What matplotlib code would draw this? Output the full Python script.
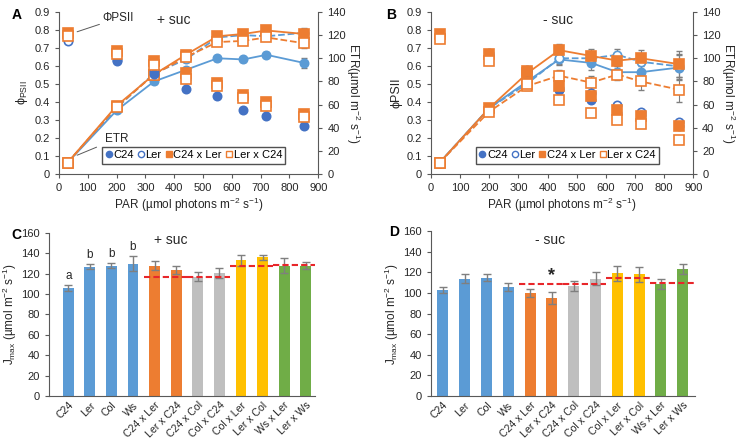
import numpy as np
import matplotlib
matplotlib.use('Agg')
import matplotlib.pyplot as plt
from matplotlib.lines import Line2D

plt.rcParams['font.family'] = ['Liberation Sans', 'DejaVu Sans']
plt.rcParams['mathtext.default'] = 'regular'
plt.rcParams['font.size'] = 8

DARK_BLUE = '#4472C4'
LIGHT_BLUE = '#5B9BD5'
ORANGE = '#ED7D31'
BAR_GRAY = '#BFBFBF'
YELLOW = '#FFC000'
GREEN = '#70AD47'
ERR = '#7F7F7F'
AXC = '#595959'
TXT = '#262626'

# light curves: PAR steps
par = [30, 200, 330, 440, 550, 640, 720, 850]

# A: + suc, PhiPSII
a_phi_c24 = [0.77, 0.63, 0.555, 0.47, 0.435, 0.355, 0.32, 0.265]
a_phi_ler = [0.74, 0.635, 0.57, 0.53, 0.49, 0.43, 0.38, 0.31]
a_phi_c24ler = [0.785, 0.685, 0.625, 0.56, 0.505, 0.44, 0.40, 0.335]
a_phi_lerc24 = [0.765, 0.665, 0.605, 0.53, 0.49, 0.42, 0.38, 0.315]
# A: + suc, ETR
a_etr_c24 = [10, 55, 80, 90, 100, 99, 103, 96]
a_etr_ler = [10, 57, 87, 99, 118, 120, 119, 122]
a_etr_c24ler = [10, 59, 86, 103, 119, 121, 124, 121]
a_etr_lerc24 = [10, 58, 86, 101, 114, 115, 118, 113]
a_etr_err = [0.5, 1.5, 2, 2, 2, 2, 2, 4]

# B: - suc, PhiPSII
b_phi_c24 = [0.78, 0.67, 0.58, 0.465, 0.41, 0.34, 0.33, 0.265]
b_phi_ler = [0.77, 0.66, 0.57, 0.48, 0.45, 0.385, 0.345, 0.29]
b_phi_c24ler = [0.78, 0.665, 0.575, 0.49, 0.435, 0.355, 0.325, 0.265]
b_phi_lerc24 = [0.75, 0.63, 0.50, 0.41, 0.34, 0.30, 0.28, 0.19]
# B: - suc, ETR
b_etr_c24 = [10, 57, 80, 99, 96, 88, 88, 92]
b_etr_ler = [10, 57, 78, 100, 100, 103, 97, 93]
b_etr_c24ler = [10, 57, 87, 107, 102, 98, 100, 95]
b_etr_lerc24 = [10, 54, 76, 85, 79, 86, 80, 73]
b_etr_err = [0.5, 1.5, 3, 5, 6, 5, 7, 11]

# C / D: Jmax
genotypes = ['C24', 'Ler', 'Col', 'Ws', 'C24 x Ler', 'Ler x C24', 'C24 x Col',
             'Col x C24', 'Col x Ler', 'Ler x Col', 'Ws x Ler', 'Ler x Ws']
c_jmax = [106, 127, 128, 130, 128, 124, 117, 121, 133, 136, 128, 128]
c_err = [2.5, 2.5, 2.5, 7, 4, 4, 4.5, 5, 5, 2.5, 7, 3]
d_jmax = [103, 114, 115, 106, 100, 95, 107, 114, 119, 118, 109, 123]
d_err = [3, 4.5, 3.5, 4, 4, 5.5, 5, 6, 7, 7.5, 5, 5]
bar_colors = [LIGHT_BLUE] * 4 + [ORANGE] * 2 + [BAR_GRAY] * 2 + [YELLOW] * 2 + [GREEN] * 2
# hybrid pairs and their parents (indices) for mid-parent lines
hybrid_pairs = [((4, 5), (0, 1)), ((6, 7), (0, 2)), ((8, 9), (2, 1)), ((10, 11), (3, 1))]
c_letters = ['a', 'b', 'b', 'b']

fig = plt.figure(figsize=(7.43, 4.42), dpi=100)


def style_axis(ax, spines):
    for s in ['top', 'right', 'left', 'bottom']:
        ax.spines[s].set_visible(s in spines)
        ax.spines[s].set_color(AXC)
    ax.tick_params(colors=AXC, labelcolor=TXT, length=3, width=0.8, labelsize=8)


def light_panel(rect, phi, etr, err, title, title_x, ylabel):
    ax = fig.add_axes(rect)
    ax2 = ax.twinx()
    ax.set_zorder(ax2.get_zorder() + 1)
    ax.patch.set_visible(False)

    # ETR (right axis) with lines
    styles = [(etr[0], LIGHT_BLUE, LIGHT_BLUE, 'o', '-', 6),
              (etr[1], LIGHT_BLUE, 'white', 'o', '--', 6),
              (etr[2], ORANGE, ORANGE, 's', '-', 6.5),
              (etr[3], ORANGE, 'white', 's', '--', 6.5)]
    for vals, c, fc, m, ls, ms in styles:
        ax2.errorbar(par, vals, yerr=err, fmt='none', ecolor=ERR, capsize=2, lw=0.8, zorder=1)
        ax2.plot(par, vals, color=c, ls=ls, lw=1.3, marker=m, ms=ms, mfc=fc, mec=c,
                 mew=1.2, zorder=2)

    # PhiPSII (left axis), markers only
    pstyles = [(phi[1], DARK_BLUE, 'white', 'o', 6),
               (phi[0], DARK_BLUE, DARK_BLUE, 'o', 6),
               (phi[2], ORANGE, ORANGE, 's', 6.5),
               (phi[3], ORANGE, 'white', 's', 6.5)]
    for vals, c, fc, m, ms in pstyles:
        ax.plot(par, vals, ls='none', marker=m, ms=ms, mfc=fc, mec=c, mew=1.2)

    ax.set_xlim(0, 900)
    ax.set_ylim(0, 0.9)
    ax2.set_ylim(0, 140)
    ax.set_xticks(np.arange(0, 901, 100))
    ax.set_yticks(np.arange(0, 0.91, 0.1))
    ax.set_yticklabels(['0'] + ['%.1f' % v for v in np.arange(0.1, 0.91, 0.1)])
    ax2.set_yticks(np.arange(0, 141, 20))
    style_axis(ax, ['left', 'bottom'])
    style_axis(ax2, ['right'])
    ax.set_xlabel('PAR (µmol photons m$^{-2}$ s$^{-1}$)', fontsize=8.5, color=TXT, labelpad=2)
    ax.set_ylabel(ylabel, fontsize=9, color=TXT, labelpad=3)
    ax2.set_ylabel('ETR(µmol m$^{-2}$ s$^{-1}$)', fontsize=8.5, color=TXT, rotation=270, labelpad=12)
    ax.text(title_x, 0.855, title, fontsize=10, color=TXT, ha='center', va='center')

    handles = [Line2D([], [], ls='none', marker='o', ms=4.5, mfc=DARK_BLUE, mec=DARK_BLUE),
               Line2D([], [], ls='none', marker='o', ms=4.5, mfc='white', mec=DARK_BLUE, mew=1.0),
               Line2D([], [], ls='none', marker='s', ms=4.5, mfc=ORANGE, mec=ORANGE),
               Line2D([], [], ls='none', marker='s', ms=4.5, mfc='white', mec=ORANGE, mew=1.0)]
    leg = ax.legend(handles, ['C24', 'Ler', 'C24 x Ler', 'Ler x C24'], ncol=4,
                    loc='lower center', bbox_to_anchor=(0.52, 0.065), frameon=True,
                    fancybox=False, edgecolor='#262626', handlelength=0.6,
                    handletextpad=0.1, columnspacing=0.35, borderpad=0.3,
                    borderaxespad=0, fontsize=8)
    leg.get_frame().set_linewidth(1.0)
    return ax, ax2


axA, axA2 = light_panel([0.0794, 0.606, 0.349, 0.367],
                        [a_phi_c24, a_phi_ler, a_phi_c24ler, a_phi_lerc24],
                        [a_etr_c24, a_etr_ler, a_etr_c24ler, a_etr_lerc24],
                        a_etr_err, '+ suc', 400, r'$\phi_{PSII}$')
axA.annotate('ΦPSII', xy=(63, 0.79), xytext=(150, 0.865), fontsize=8.5, color=TXT,
             va='center', arrowprops=dict(arrowstyle='-', color='#595959', lw=0.7, shrinkA=0, shrinkB=0))
axA.annotate('ETR', xy=(63, 0.105), xytext=(158, 0.195), fontsize=8.5, color=TXT,
             va='center', arrowprops=dict(arrowstyle='-', color='#595959', lw=0.7, shrinkA=4, shrinkB=0))

axB, axB2 = light_panel([0.580, 0.606, 0.353, 0.367],
                        [b_phi_c24, b_phi_ler, b_phi_c24ler, b_phi_lerc24],
                        [b_etr_c24, b_etr_ler, b_etr_c24ler, b_etr_lerc24],
                        b_etr_err, '- suc', 436, 'ϕPSII')


def bar_panel(rect, vals, errs, title, title_x, title_y, xlim):
    ax = fig.add_axes(rect)
    x = np.arange(len(genotypes))
    ax.bar(x, vals, width=0.5, color=bar_colors, yerr=errs,
           error_kw=dict(ecolor=ERR, capsize=3, lw=1.0, capthick=1.0))
    for hyb, par_idx in hybrid_pairs:
        mid = (vals[par_idx[0]] + vals[par_idx[1]]) / 2
        ax.plot([hyb[0] - 0.5, hyb[1] + 0.5], [mid, mid], color='#E8262A',
                ls=(0, (3, 1.5)), lw=1.5, zorder=3)
    ax.set_xlim(*xlim)
    ax.set_ylim(0, 160)
    ax.set_yticks(np.arange(0, 161, 20))
    ax.set_xticks(x)
    ax.set_xticklabels(genotypes, rotation=45, ha='right', rotation_mode='anchor')
    style_axis(ax, ['left', 'bottom'])
    ax.tick_params(axis='x', length=0, pad=3, labelsize=7.6)
    ax.set_ylabel('J$_{max}$ (µmol m$^{-2}$ s$^{-1}$)', fontsize=8.5, color=TXT, labelpad=2)
    ax.text(title_x, title_y, title, fontsize=10, color=TXT, ha='center', va='center')
    return ax


axC = bar_panel([0.066, 0.104, 0.358, 0.369], c_jmax, c_err, '+ suc', 4.75, 153, (-0.89, 11.43))
for i, lab in enumerate(c_letters):
    axC.text(i, c_jmax[i] + c_err[i] + 9, lab, fontsize=8.5, color=TXT, ha='center', va='center')

axD = bar_panel([0.580, 0.104, 0.355, 0.373], d_jmax, d_err, '- suc', 4.9, 151, (-0.55, 11.55))
axD.text(5, 117, '*', fontsize=13, color=TXT, ha='center', va='center', fontweight='bold')

for lab, xx, yy in [('A', 0.022, 0.965), ('B', 0.527, 0.965), ('C', 0.022, 0.468), ('D', 0.530, 0.474)]:
    fig.text(xx, yy, lab, fontsize=10, fontweight='bold', color='black', ha='center', va='center')

fig.savefig('out.png', dpi=100)
